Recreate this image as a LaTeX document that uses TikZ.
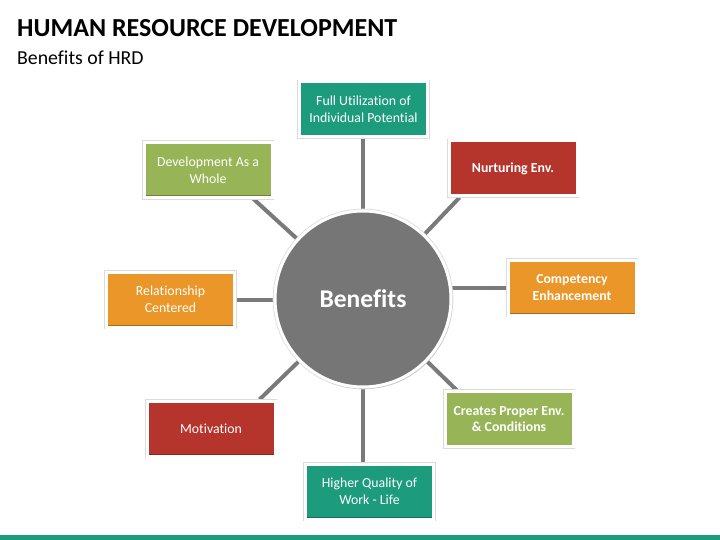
\documentclass[tikz,border=0pt]{standalone}
\usepackage{fontspec}
\setmainfont{Carlito}[Ligatures=CommonOff]
\usetikzlibrary{shadows,backgrounds,calc}
\definecolor{tealc}{HTML}{1C9B7D}
\definecolor{redc}{HTML}{B5352C}
\definecolor{orangec}{HTML}{EB9628}
\definecolor{greenc}{HTML}{97B557}
\definecolor{hubc}{HTML}{767676}
\definecolor{linkc}{HTML}{7A7A7A}
\tikzset{
  boxbase/.style={rectangle, draw=white, line width=3pt, minimum width=128pt, minimum height=55pt,
    inner sep=0pt, align=center, text=white, font=\fontsize{13.8}{16.8}\selectfont,
    drop shadow={shadow xshift=1.5pt, shadow yshift=-2pt, opacity=0.25},
    preaction={draw=black!14, line width=4.6pt},
    path picture={
      \fill[black, opacity=0.28] (path picture bounding box.south west) rectangle ([yshift=2pt]path picture bounding box.south east);
      \fill[black, opacity=0.15] (path picture bounding box.south east) rectangle ([xshift=-1.2pt]path picture bounding box.north east);
      \fill[white, opacity=0.15] (path picture bounding box.north west) rectangle ([yshift=-1pt]path picture bounding box.north east);
    }},
  tealbox/.style={boxbase, fill=tealc},
  redbox/.style={boxbase, fill=redc},
  orangebox/.style={boxbase, fill=orangec},
  greenbox/.style={boxbase, fill=greenc},
  boldtext/.style={font=\fontsize{13.8}{16.8}\selectfont\bfseries},
  hub/.style={circle, fill=hubc, draw=white, line width=3pt, minimum size=176pt, inner sep=0pt,
    text=white, font=\fontsize{25.5}{30}\selectfont\bfseries,
    preaction={draw=black!14, line width=4.6pt},
    drop shadow={shadow xshift=1.5pt, shadow yshift=-2pt, opacity=0.25}},
  link/.style={draw=linkc, line width=4pt}
}
\begin{document}
\begin{tikzpicture}[x=1pt,y=-1pt]
\useasboundingbox (0,0) rectangle (720,540);
\node[anchor=base west, inner sep=0pt, font=\fontsize{26}{30}\selectfont\bfseries] (title) at (17,37) {HUMAN RESOURCE DEVELOPMENT};
\node[anchor=base west, inner sep=0pt, font=\fontsize{19.8}{23}\selectfont] (sub) at (17,65) {Benefits of HRD};
\fill[tealc] (0,535) rectangle (720,540);

\node[hub] (c) at (363,299) {Benefits};
\node[tealbox] (b1) at (363.5,109.5) {Full Utilization of\\Individual Potential};
\node[redbox, boldtext] (b2) at (513,168.5) {Nurturing Env.};
\node[orangebox, boldtext] (b3) at (572,287.5) {Competency\\Enhancement};
\node[greenbox, boldtext] (b4) at (509,419) {Creates Proper Env.\\\& Conditions};
\node[tealbox] (b5) at (369.5,491.5) {Higher Quality of\\Work - Life};
\node[redbox] (b6) at (211,428.5) {Motivation};
\node[orangebox] (b7) at (170.5,299.5) {Relationship\\Centered};
\node[greenbox] (b8) at (208,170) {Development As a\\Whole};

\begin{pgfonlayer}{background}
\fill[white] (0,0) rectangle (720,540);
\draw[link] (c.center) -- (b1.south -| c.center);
\draw[link] (c.center) -- ($(b2.south west)+(12,0)$);
\draw[link] (b3.west -| c.center) -- (b3.west);
\draw[link] (c.center) -- ($(b4.north west)+(13,0)$);
\draw[link] (c.center) -- (b5.north -| c.center);
\draw[link] (c.center) -- ($(b6.north east)+(-17,0)$);
\draw[link] (b7.east -| c.center) -- (b7.east);
\draw[link] (c.center) -- ($(b8.south east)+(-20,0)$);
\end{pgfonlayer}
\end{tikzpicture}
\end{document}
